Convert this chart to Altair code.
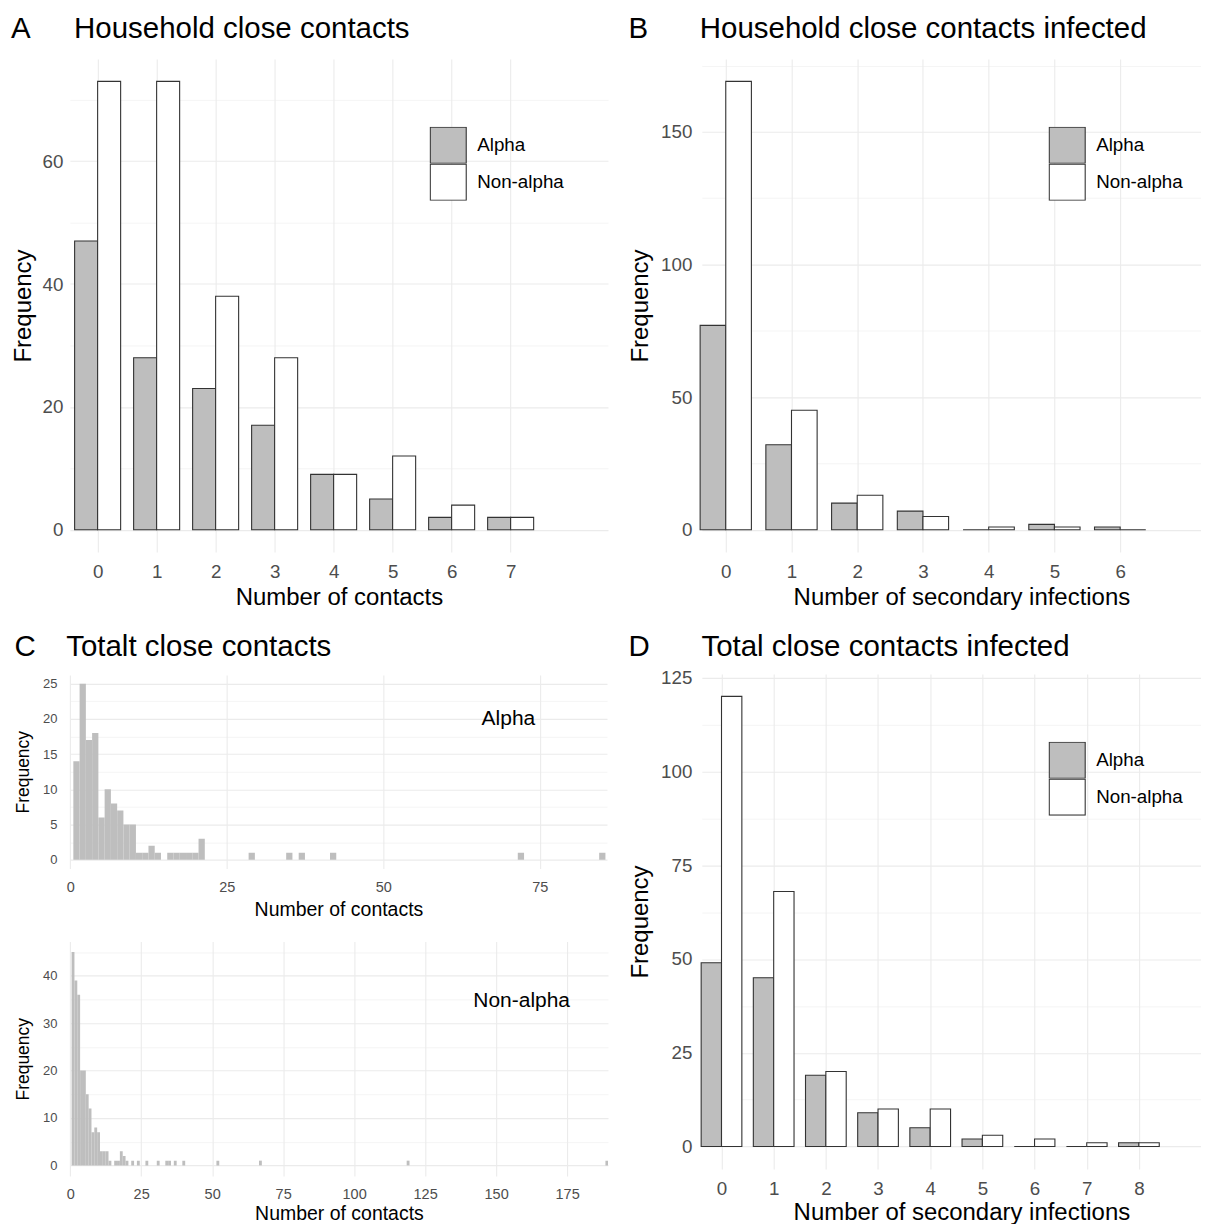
import altair as alt
import pandas as pd

FONT = "Liberation Sans"
GRID = "#EBEBEB"
TICKC = "#4D4D4D"
EDGE = "#333333"
NB = "\u00a0"
HS = "\u200a"
TS = "\u2009"

# ---------------- data ----------------
variants = ["Alpha", "Non-alpha"]
variant_fills = ["#BEBEBE", "#FFFFFF"]

# A: household close contacts
hh_contacts = [0, 1, 2, 3, 4, 5, 6, 7]
hh_alpha = [47, 28, 23, 17, 9, 5, 2, 2]
hh_nonalpha = [73, 73, 38, 28, 9, 12, 4, 2]

# B: household close contacts infected
hh_infected = [0, 1, 2, 3, 4, 5, 6]
hh_inf_alpha = [77, 32, 10, 7, 0, 2, 1]
hh_inf_nonalpha = [169, 45, 13, 5, 1, 1, 0]

# D: total close contacts infected
tot_infected = [0, 1, 2, 3, 4, 5, 6, 7, 8]
tot_inf_alpha = [49, 45, 19, 9, 5, 2, 0, 0, 1]
tot_inf_nonalpha = [120, 68, 20, 10, 10, 3, 2, 1, 1]

# C: total close contacts (histograms, bin width 1)
tot_alpha_contacts = [1, 2, 3, 4, 5, 6, 7, 8, 9, 10, 11, 12, 13, 14,
                      16, 17, 18, 19, 20, 21, 29, 35, 37, 42, 72, 85]
tot_alpha_freq = [14, 25, 17, 18, 6, 10, 8, 7, 5, 5, 1, 1, 2, 1,
                  1, 1, 1, 1, 1, 3, 1, 1, 1, 1, 1, 1]
tot_nonalpha_contacts = [1, 2, 3, 4, 5, 6, 7, 8, 9, 10, 11, 12, 13, 14,
                         16, 17, 18, 19, 20, 22, 24, 27, 31, 34, 35, 37, 40,
                         52, 67, 119, 189]
tot_nonalpha_freq = [45, 39, 36, 20, 20, 15, 12, 7, 8, 7, 3, 3, 3, 1,
                     1, 1, 3, 2, 1, 1, 1, 1, 1, 1, 1, 1, 1,
                     1, 1, 1, 1]

# in-panel labels of C (position in data units)
c_top_label = ["Alpha", 70, 20]
c_bot_label = ["Non-alpha", 159, 34.7]

BAR_W = 0.39


def y_axis(values, major, lab_size, title_size, lab_pad, title_pad):
    return alt.Axis(
        values=values, title="Frequency",
        labelExpr=f"datum.value % {major} === 0 ? datum.label : ''",
        grid=True, gridColor=GRID,
        gridWidth={"condition": {"test": f"datum.value % {major} === 0", "value": 1.1}, "value": 0.55},
        ticks=False, domain=False,
        labelFont=FONT, labelFontSize=lab_size, labelColor=TICKC, labelPadding=lab_pad,
        titleFont=FONT, titleFontSize=title_size, titleFontWeight="normal", titleColor="black",
        titlePadding=title_pad,
    )


def x_axis(values, title, lab_size, title_size, lab_pad, title_pad, title_x=None):
    kw = {}
    if title_x is not None:
        kw["titleX"] = title_x
    return alt.Axis(
        values=values, title=title, grid=True, gridColor=GRID, gridWidth=1.1,
        ticks=False, domain=False, labelFlush=False,
        labelFont=FONT, labelFontSize=lab_size, labelColor=TICKC, labelPadding=lab_pad,
        titleFont=FONT, titleFontSize=title_size, titleFontWeight="normal", titleColor="black",
        titlePadding=title_pad, **kw,
    )


def make_title(text, offset):
    return alt.TitleParams(text=text, anchor="start", frame="bounds", font=FONT,
                           fontSize=29.5, fontWeight="normal", color="black", offset=offset)


def grouped_panel(xs, a_vals, n_vals, xdom, ydom, yvals, ymajor, width, height,
                  xtitle, title, legend_xy, ylab_pad, ytitle_pad, xlab_pad, xtitle_pad, toff,
                  title_x=None):
    df = pd.DataFrame({
        "k": list(xs) + list(xs),
        "freq": list(a_vals) + list(n_vals),
        "variant": [variants[0]] * len(xs) + [variants[1]] * len(xs),
    })
    return alt.Chart(df).transform_calculate(
        lo=f"datum.variant === '{variants[0]}' ? datum.k - {BAR_W} : datum.k",
        hi=f"datum.variant === '{variants[0]}' ? datum.k : datum.k + {BAR_W}",
        base="0",
    ).mark_rect(stroke=EDGE, strokeWidth=1.1).encode(
        x=alt.X("lo:Q", scale=alt.Scale(domain=xdom, nice=False, zero=False),
                axis=x_axis(list(xs), xtitle, 18.8, 24, xlab_pad, xtitle_pad, title_x)),
        x2="hi:Q",
        y=alt.Y("freq:Q", scale=alt.Scale(domain=ydom, nice=False, zero=False),
                axis=y_axis(yvals, ymajor, 18.8, 24, ylab_pad, ytitle_pad)),
        y2="base:Q",
        fill=alt.Fill("variant:N", scale=alt.Scale(domain=variants, range=variant_fills),
                      legend=alt.Legend(title=None, orient="none", legendX=legend_xy[0],
                                        legendY=legend_xy[1], symbolType="square",
                                        symbolSize=1296, symbolStrokeColor=EDGE,
                                        symbolStrokeWidth=1.1, symbolOpacity=1,
                                        labelFont=FONT, labelFontSize=18.8, labelColor="black",
                                        labelOffset=10, rowPadding=0, clipHeight=37,
                                        padding=0)),
    ).properties(width=width, height=height, title=make_title(title, toff))


def hist_panel(contacts, freqs, label, xdom, xvals, ydom, yvals, ymajor, width, height,
               xlab_pad, xtitle_pad, title=None):
    df = pd.DataFrame({"c": contacts, "freq": freqs})
    xenc = alt.X("lo:Q", scale=alt.Scale(domain=xdom, nice=False, zero=False),
                 axis=x_axis(xvals, "Number of contacts", 14.5, 19.5, xlab_pad, xtitle_pad))
    yenc = alt.Y("freq:Q", scale=alt.Scale(domain=ydom, nice=False, zero=False),
                 axis=y_axis(yvals, ymajor, 13, 17.5, 13, 10))
    bars = alt.Chart(df).transform_calculate(
        lo="datum.c - 0.5", hi="datum.c + 0.5", base="0"
    ).mark_rect(fill="#BEBEBE", clip=True).encode(x=xenc, x2="hi:Q", y=yenc, y2="base:Q")
    ldf = pd.DataFrame({"txt": [label[0]], "lo": [label[1]], "freq": [label[2]]})
    txt = alt.Chart(ldf).mark_text(font=FONT, fontSize=21, color="black",
                                   align="center", baseline="middle").encode(
        x=xenc, y=yenc, text="txt:N")
    props = dict(width=width, height=height)
    if title is not None:
        props["title"] = make_title(title, 12)
    return alt.layer(bars, txt).properties(**props)


panel_a = grouped_panel(
    hh_contacts, hh_alpha, hh_nonalpha, [-0.47, 8.65], [-3.65, 76.65],
    list(range(0, 71, 10)), 20, 539, 494, "Number of contacts",
    "A" + NB * 5 + HS + "Household close contacts", (360, 68), 7, 7, 10, 5, 14)

panel_b = grouped_panel(
    hh_infected, hh_inf_alpha, hh_inf_nonalpha, [-0.364, 7.23], [-8.45, 177.45],
    list(range(0, 176, 25)), 50, 500, 494, "Number of secondary infections",
    "B" + NB * 6 + HS + "Household close contacts infected", (347, 68), 10, 8, 10, 5, 14,
    title_x=260)

panel_d = grouped_panel(
    tot_infected, tot_inf_alpha, tot_inf_nonalpha, [-0.377, 9.19], [-6, 126],
    [i * 12.5 for i in range(11)], 25, 500, 496, "Number of secondary infections",
    "D" + NB * 6 + HS + "Total close contacts infected", (347, 68), 10, 8, 10, 3, 6,
    title_x=260)

panel_c1 = hist_panel(
    tot_alpha_contacts, tot_alpha_freq, c_top_label, [-0.05, 85.75], [0, 25, 50, 75],
    [-1.25, 26.25], [i * 2.5 for i in range(11)], 5, 538, 194, 12, 7,
    title="C" + NB * 3 + TS + "Totalt close contacts")

panel_c2 = hist_panel(
    tot_nonalpha_contacts, tot_nonalpha_freq, c_bot_label, [-0.1, 189.4],
    [0, 25, 50, 75, 100, 125, 150, 175],
    [-2.25, 47.25], list(range(0, 46, 5)), 10, 539, 235, 11, 4)

left = alt.vconcat(panel_a, panel_c1, panel_c2, spacing=22).resolve_scale(
    fill="independent").resolve_legend(fill="independent")
right = alt.vconcat(panel_b, panel_d, spacing=22).resolve_scale(
    fill="independent").resolve_legend(fill="independent")

chart = alt.hconcat(left, right, spacing=20).resolve_scale(
    fill="independent").resolve_legend(fill="independent").properties(
    padding={"left": 3, "top": 5, "right": 0, "bottom": 0}, background="white"
).configure_view(strokeWidth=0, stroke=None)

chart.save("out.html", embed_options={"renderer": "svg", "actions": False})
